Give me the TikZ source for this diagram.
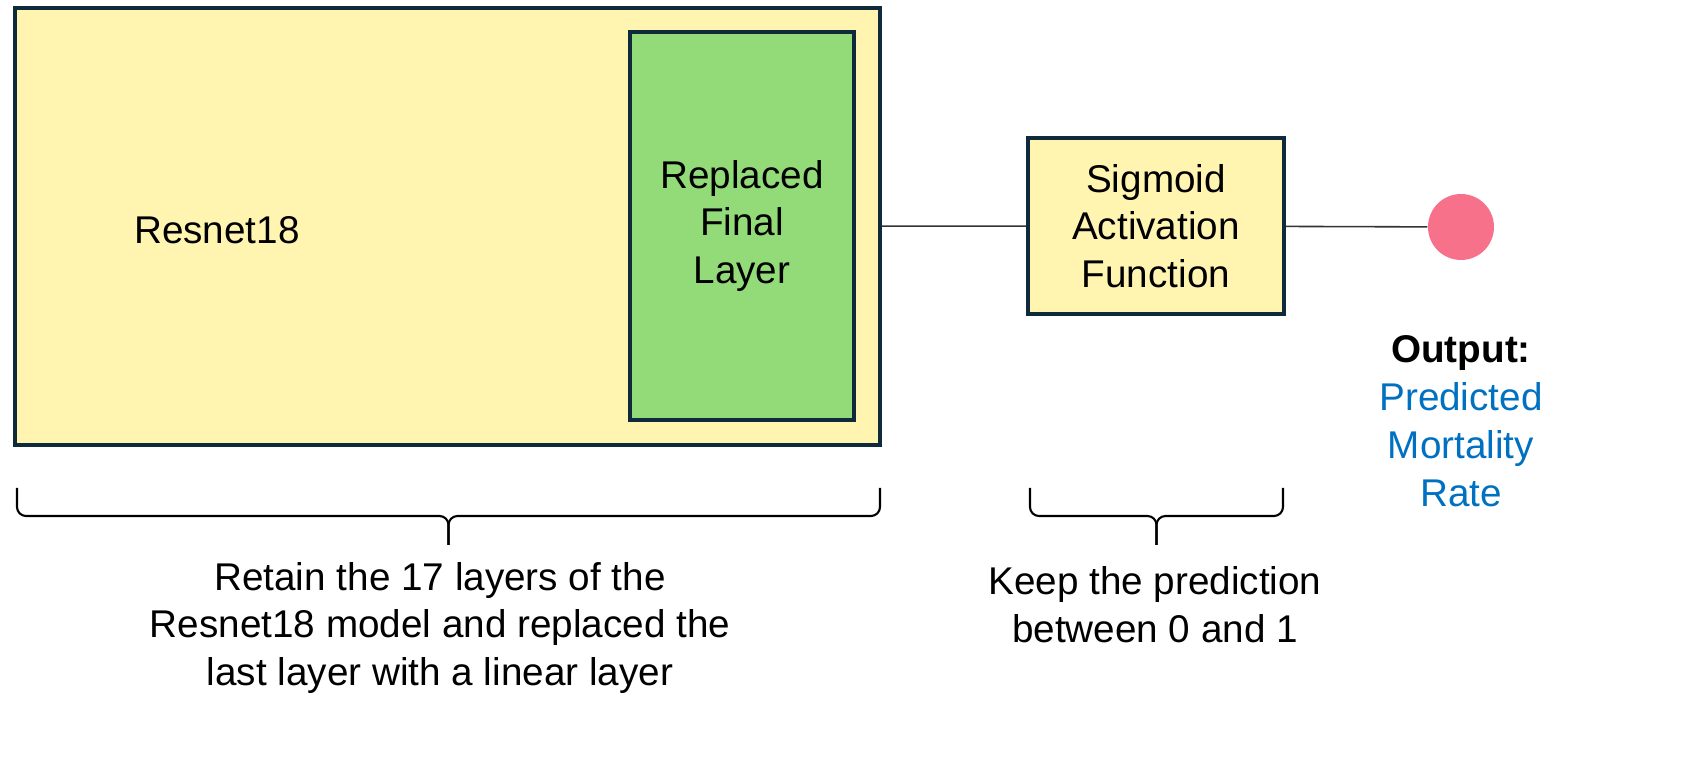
\documentclass[tikz,border=0pt]{standalone}
\usepackage{fontspec}
\setmainfont{Liberation Sans}
\usepackage{xcolor}
\definecolor{boxyellow}{HTML}{FFF5B1}
\definecolor{boxgreen}{HTML}{92DB78}
\definecolor{boxedge}{HTML}{0E2A3B}
\definecolor{outpink}{HTML}{F7718A}
\definecolor{outblue}{HTML}{0070C0}

\begin{document}
\begin{tikzpicture}[font=\fontsize{11}{13.6}\selectfont,
    layerbox/.style={draw=boxedge, line width=1.1pt, inner sep=0pt, align=center},
    link/.style={draw=black!80, line width=0.45pt},
    curly/.style={draw=black, line width=0.6pt, rounded corners=0.09cm}]
         \useasboundingbox (0,0) rectangle (17.08,-7.57);
         % Boxes
         \node [layerbox, fill=boxyellow, minimum width=8.65cm, minimum height=4.37cm] (resnet) at (4.475,-2.265) {};
         \node [layerbox, fill=boxgreen, minimum width=2.24cm, minimum height=3.88cm] (final) at (7.42,-2.26) {Replaced\\Final\\Layer};
         \node at (2.17,-2.30) (rlabel) {Resnet18};
         \node [layerbox, fill=boxyellow, minimum width=2.56cm, minimum height=1.76cm] (sigmoid) at (11.56,-2.26) {Sigmoid\\Activation\\Function};
         \node [circle, fill=outpink, minimum size=0.66cm, inner sep=0pt] (out) at (14.61,-2.27) {};
         % Links
         \draw [link] (resnet) -- (sigmoid);
         \draw [link] (sigmoid) -- (out);
         % Braces
         \coordinate (b1l) at (0.17,-4.88);
         \coordinate (b1r) at (8.80,-4.88);
         \coordinate (b1m) at (4.485,-5.16);
         \coordinate (b1t) at (4.485,-5.45);
         \coordinate (b2l) at (10.30,-4.88);
         \coordinate (b2r) at (12.83,-4.88);
         \coordinate (b2m) at (11.565,-5.16);
         \coordinate (b2t) at (11.565,-5.45);
         \foreach \b in {b1, b2} {
           \draw [curly] (\b l) -- (\b l |- \b m) -- (\b m) -- (\b t);
           \draw [curly] (\b r) -- (\b r |- \b m) -- (\b m) -- (\b t);
         }
         % Notes
         \node [align=center] (retain) at (4.40,-6.28) {Retain the 17 layers of the\\Resnet18 model and replaced the\\last layer with a linear layer};
         \node [align=center] (keep) at (11.55,-6.05) {Keep the prediction\\between 0 and 1};
         \node [align=center] (otext) at (14.61,-4.21) {\textbf{Output:}\\\textcolor{outblue}{Predicted}\\\textcolor{outblue}{Mortality}\\\textcolor{outblue}{Rate}};
     \end{tikzpicture}
\end{document}
